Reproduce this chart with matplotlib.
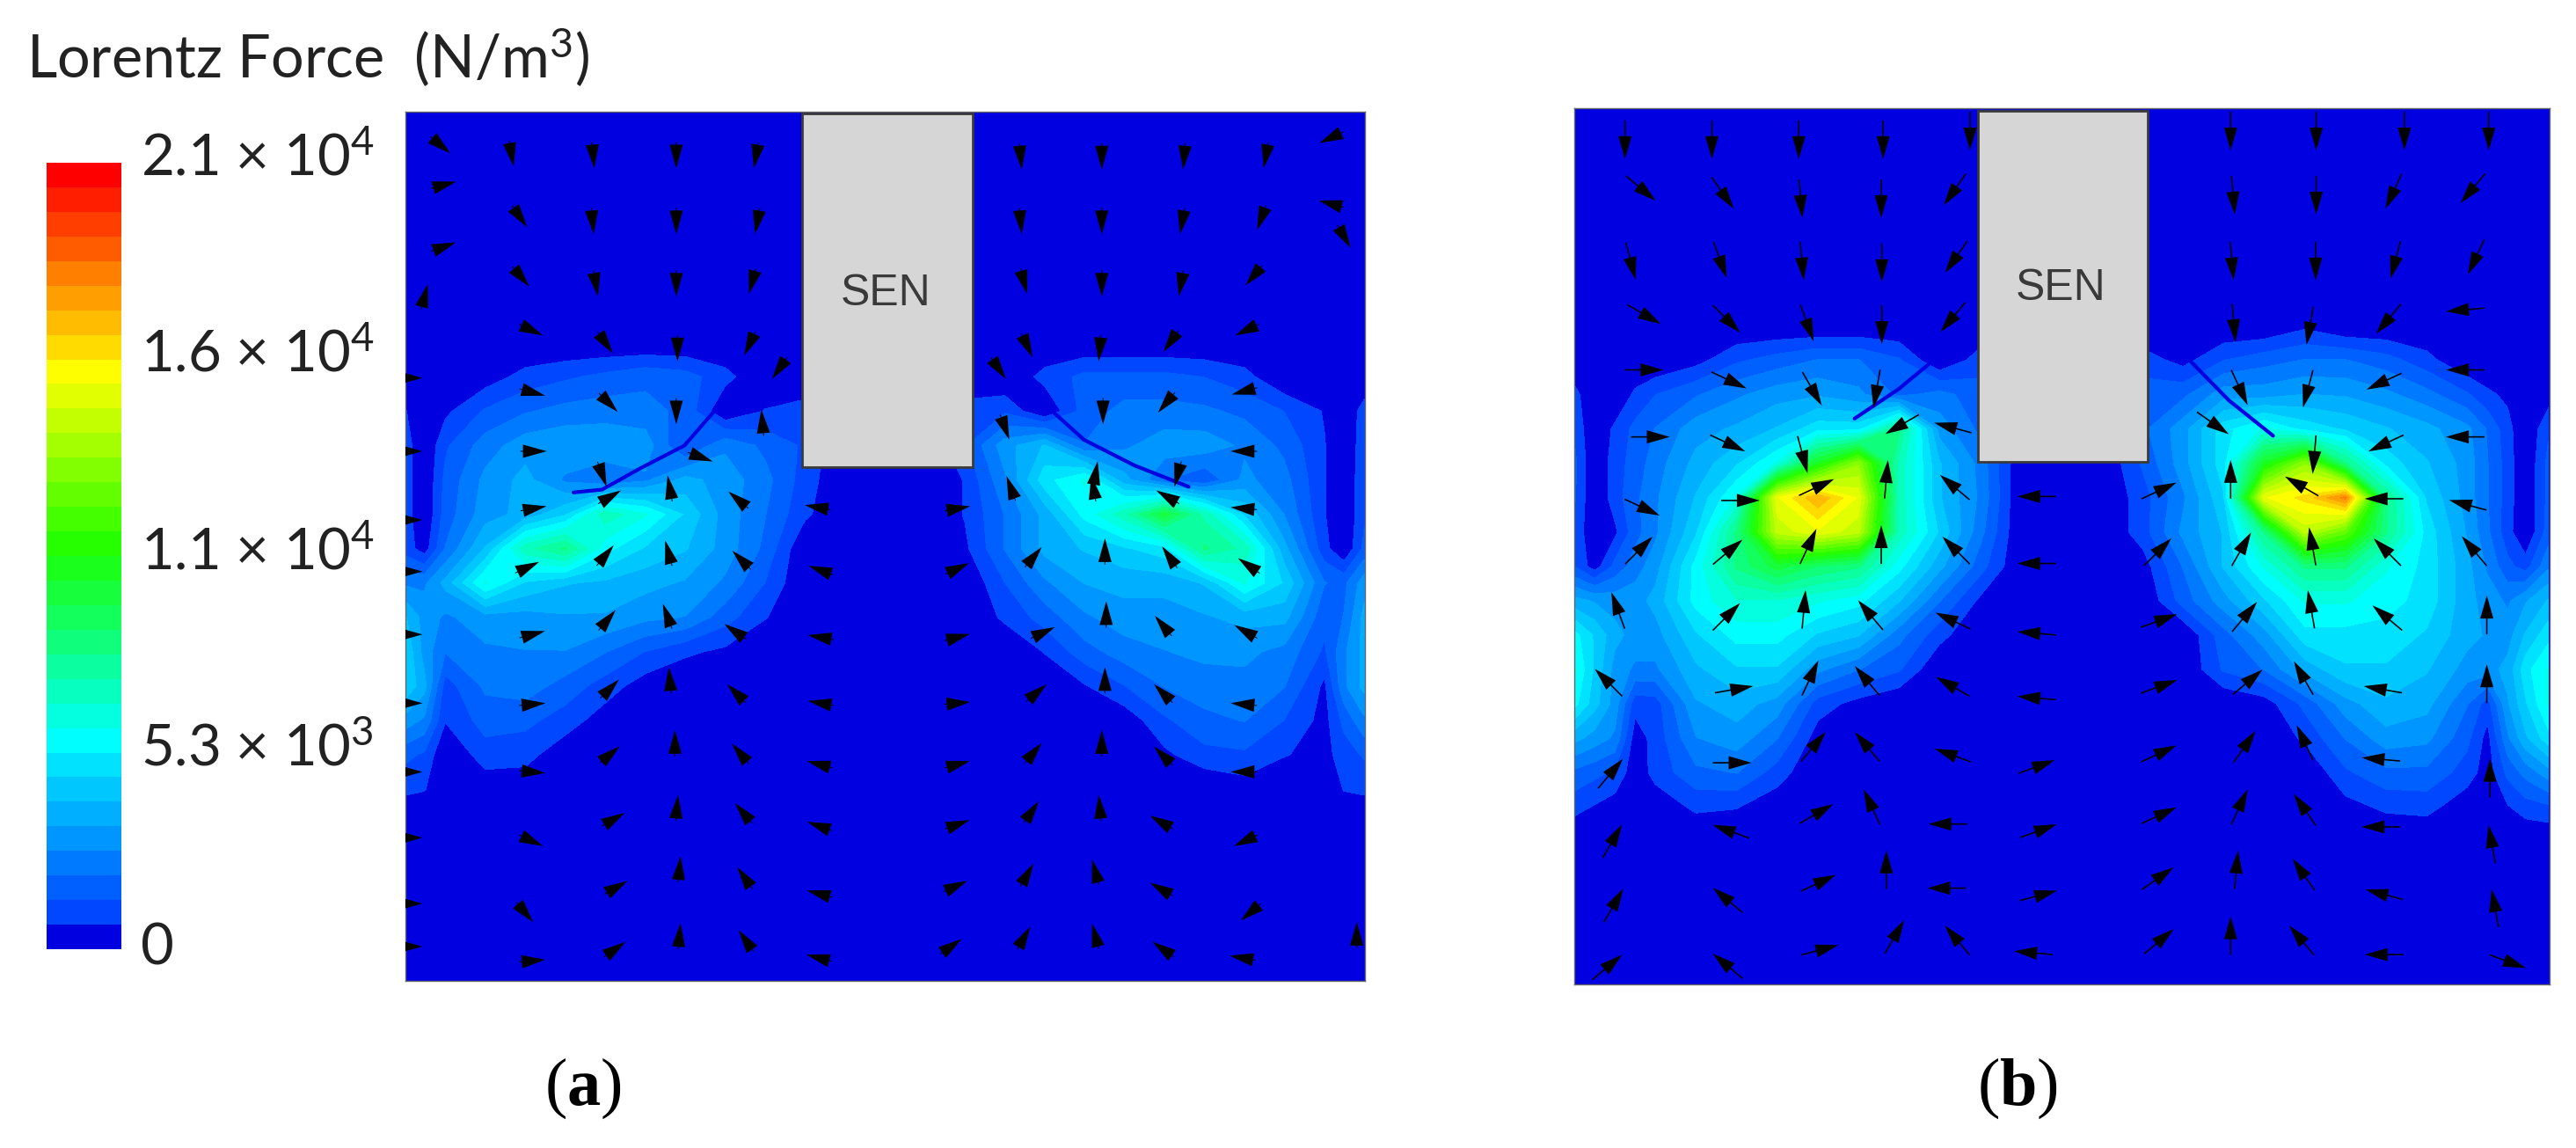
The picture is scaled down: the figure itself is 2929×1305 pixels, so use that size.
#!/usr/bin/env python3
"""Lorentz force maps around the SEN, two cases with a shared colour bar."""

import matplotlib
matplotlib.use('Agg')
import matplotlib.pyplot as plt
from matplotlib.cm import ScalarMappable
from matplotlib.colors import BoundaryNorm, LinearSegmentedColormap, ListedColormap
from matplotlib.patches import Rectangle
import numpy as np

# force magnitude in kN/m3 on a coarse grid
field_a_x = [30, 60, 93, 156, 219, 282, 345, 408, 471, 534, 597, 660, 723, 786, 849, 912,
             975, 1038, 1101, 1164, 1227, 1290, 1353, 1416, 1479, 1510, 1542]
field_a_y = [430, 490, 550, 610, 670, 730, 790, 850, 910, 970, 1030, 1090, 1150, 1210, 1270]
field_a = [
    [0, 0, 0, 0, 0, 0, 0, 0, 0, 0, 0, 0, 0, 0, 0, 0, 0, 0, 0, 0, 0, 0, 0, 0, 0, 0, 0],
    [0, 0, 0, 0.3, 0.9, 1.2, 1.5, 1.8, 1.6, 0.9, 0, 0, 0, 0, 0, 0, 0, 0.9, 1.5, 1.5, 1.5, 1.3, 0.9, 0, 0, 0, 0],
    [0.7, 0, 0.5, 1.4, 1.9, 2.2, 2.3, 2.2, 1.8, 0, 0.7, 1.0, 0, 0, 0, 1.0, 1.2, 0, 1.6, 2.2, 2.2, 2.1, 1.8, 1.3, 0.6, 0, 1.0],
    [1.0, 0, 1.2, 2.3, 3.0, 3.2, 3.2, 3.0, 1.2, 2.5, 1.8, 1.2, 0, 0, 0, 1.2, 3.0, 4.0, 2.0, 2.5, 3.0, 3.0, 2.5, 1.8, 0.7, 0, 1.1],
    [1.0, 0, 1.5, 2.8, 3.5, 2.5, 2.0, 2.5, 3.5, 3.0, 2.2, 1.0, 0, 0, 0, 0.7, 2.5, 5.0, 6.0, 3.5, 2.0, 1.4, 2.8, 2.2, 0.7, 0, 1.2],
    [1.0, 0, 1.6, 3.0, 3.5, 4.5, 7.0, 6.0, 4.5, 3.0, 2.0, 0.8, 0, 0, 0, 0.7, 2.0, 3.5, 5.5, 7.0, 9.5, 7.0, 4.5, 2.6, 0.7, 0, 1.2],
    [1.0, 0.3, 2.0, 4.0, 7.0, 8.0, 5.5, 4.5, 4.0, 3.0, 1.8, 0, 0, 0, 0, 0.5, 2.0, 3.5, 4.0, 4.5, 5.0, 8.0, 7.0, 3.5, 0.9, 0, 1.5],
    [2.5, 2.5, 3.5, 6.0, 4.5, 4.0, 3.8, 3.5, 3.2, 2.5, 1.3, 0, 0, 0, 0, 0, 1.3, 2.5, 3.3, 3.5, 3.5, 4.0, 6.0, 4.5, 2.0, 1.8, 3.0],
    [4.0, 3.0, 2.5, 3.0, 3.0, 3.2, 3.2, 2.8, 2.6, 1.6, 0.7, 0, 0, 0, 0, 0, 0.8, 1.6, 2.5, 3.0, 3.0, 3.2, 3.5, 3.5, 1.5, 2.0, 3.5],
    [4.5, 3.0, 2.0, 2.5, 2.6, 2.6, 2.0, 1.3, 0.8, 0.5, 0, 0, 0, 0, 0, 0, 0, 0.7, 1.7, 2.3, 2.6, 2.8, 2.8, 2.4, 1.2, 2.5, 3.5],
    [4.5, 3.5, 1.0, 2.1, 2.3, 1.7, 1.0, 0.3, 0, 0, 0, 0, 0, 0, 0, 0, 0, 0, 0.6, 1.3, 2.0, 2.3, 2.4, 2.0, 0.5, 2.5, 3.5],
    [3.0, 2.5, 0.7, 1.6, 1.5, 1.0, 0.3, 0, 0, 0, 0, 0, 0, 0, 0, 0, 0, 0, 0, 0.2, 1.2, 1.8, 2.0, 1.3, 0.4, 1.5, 2.5],
    [1.5, 1.2, 0, 1.0, 0.9, 0.2, 0, 0, 0, 0, 0, 0, 0, 0, 0, 0, 0, 0, 0, 0, 0.5, 1.1, 1.2, 0.7, 0.4, 1.0, 1.4],
    [0.8, 0.7, 0, 0.2, 0.2, 0, 0, 0, 0, 0, 0, 0, 0, 0, 0, 0, 0, 0, 0, 0, 0, 0, 0.3, 0, 0, 0.7, 0.8],
    [0, 0, 0, 0, 0, 0, 0, 0, 0, 0, 0, 0, 0, 0, 0, 0, 0, 0, 0, 0, 0, 0, 0, 0, 0, 0, 0],
]
# thin low-force slits across the lobes
slits_a_x = [[560, 470, 400, 340, 295], [1030, 1100, 1180, 1265]]
slits_a_y = [[495, 610, 650, 687, 692], [530, 600, 645, 682]]

field_b_x = [28, 60, 92, 124, 156, 220, 284, 348, 412, 476, 540, 604, 668, 732, 796, 860, 924,
             988, 1052, 1116, 1180, 1244, 1308, 1372, 1436, 1468, 1500, 1528, 1564]
field_b_y = [400, 460, 520, 580, 640, 700, 760, 820, 880, 940, 1000, 1060, 1120, 1180, 1240, 1300]
field_b = [
    [0, 0, 0, 0, 0, 0, 0, 0, 0, 0, 0, 0, 0, 0, 0, 0, 0, 0, 0, 0, 0.5, 0, 0, 0, 0, 0, 0, 0, 0],
    [0, 0, 0, 0, 0, 0.4, 1.2, 1.6, 2.0, 2.0, 1.4, 0, 1.0, 0, 0, 0, 1.0, 0.4, 1.3, 1.7, 2.0, 2.0, 1.6, 0.9, 0, 0, 0, 0, 0],
    [0.9, 0, 0, 0.8, 1.3, 1.9, 2.5, 3.0, 3.2, 2.8, 1.8, 2.2, 1.6, 0, 0, 0, 1.6, 1.8, 3.0, 3.0, 3.3, 3.2, 2.8, 2.2, 1.4, 0.8, 0.5, 0, 0.3],
    [1.2, 0, 0.8, 1.5, 2.0, 3.0, 3.4, 4.0, 5.0, 5.0, 8.0, 3.0, 1.8, 0, 0, 0, 1.8, 3.0, 5.0, 6.0, 5.0, 4.5, 4.0, 3.5, 2.8, 1.9, 0.9, 0, 1.2],
    [1.5, 0, 1.0, 1.6, 2.3, 3.5, 4.5, 6.0, 10.0, 13.0, 7.0, 4.0, 2.4, 0, 0, 0, 1.4, 3.0, 5.0, 10.0, 13.0, 8.0, 5.0, 4.0, 3.0, 2.0, 1.0, 0, 1.5],
    [1.4, 0, 1.0, 1.8, 2.5, 4.0, 6.0, 15.0, 17.0, 15.0, 7.0, 4.0, 2.5, 0, 0, 0, 1.0, 2.5, 4.5, 15.0, 16.0, 18.0, 8.0, 4.5, 3.0, 2.0, 1.0, 0, 1.5],
    [1.2, 0, 0.5, 1.7, 2.5, 4.5, 8.0, 14.0, 15.0, 14.0, 7.0, 4.5, 2.2, 0, 0, 0, 1.0, 2.8, 4.0, 8.0, 14.0, 12.0, 8.0, 5.0, 3.2, 2.1, 0.9, 0, 1.6],
    [1.3, 0.3, 1.5, 2.3, 3.0, 5.5, 8.0, 9.5, 8.5, 8.0, 5.5, 3.5, 1.6, 0, 0, 0, 0.3, 2.0, 4.0, 6.0, 8.0, 8.0, 6.0, 5.0, 3.5, 2.5, 1.5, 1.0, 2.5],
    [3.5, 3.2, 3.0, 3.0, 3.5, 5.5, 6.5, 6.5, 6.0, 5.5, 4.0, 2.0, 0.5, 0, 0, 0, 0, 1.6, 3.0, 4.5, 6.0, 6.0, 5.5, 5.0, 3.5, 3.0, 2.5, 3.2, 4.0],
    [5.5, 4.5, 3.5, 3.0, 3.0, 4.5, 5.5, 5.5, 4.5, 4.0, 2.2, 0.9, 0, 0, 0, 0, 0, 0, 1.7, 3.0, 5.0, 5.0, 5.0, 4.5, 3.5, 3.2, 3.0, 4.0, 5.0],
    [6.0, 4.5, 3.0, 2.5, 2.5, 3.8, 4.5, 4.5, 2.8, 2.0, 1.4, 0, 0, 0, 0, 0, 0, 0, 1.4, 2.0, 3.5, 4.5, 4.5, 4.0, 3.0, 3.0, 3.5, 5.0, 6.0],
    [5.5, 4.2, 3.0, 0.9, 1.0, 3.2, 3.6, 3.0, 1.0, 0.4, 0, 0, 0, 0, 0, 0, 0, 0, 0, 0.3, 1.5, 3.0, 3.8, 3.5, 2.0, 1.0, 3.2, 4.5, 6.0],
    [3.5, 3.0, 2.5, 0.3, 0.9, 2.6, 3.0, 2.0, 0.3, 0, 0, 0, 0, 0, 0, 0, 0, 0, 0, 0, 0.8, 2.0, 3.0, 2.8, 1.5, 0.4, 2.5, 3.8, 5.0],
    [1.8, 1.5, 1.2, 0.2, 0.9, 1.8, 2.0, 1.0, 0, 0, 0, 0, 0, 0, 0, 0, 0, 0, 0, 0, 0, 1.2, 1.8, 1.8, 1.0, 0.3, 1.5, 2.2, 3.0],
    [0.9, 0.6, 0.3, 0, 0.2, 0.8, 0.7, 0.2, 0, 0, 0, 0, 0, 0, 0, 0, 0, 0, 0, 0, 0, 0.4, 0.8, 0.9, 0.2, 0.2, 0.6, 1.0, 1.2],
    [0, 0, 0, 0, 0, 0, 0, 0, 0, 0, 0, 0, 0, 0, 0, 0, 0, 0, 0, 0, 0, 0, 0, 0, 0, 0, 0, 0, 0],
]
slits_b_x = [[600, 540, 470], [1000, 1060, 1130]]
slits_b_y = [[455, 510, 562], [462, 530, 592]]

# force arrows: position and direction (degrees, anticlockwise from +x)
arrows_a_x = [85, 197, 326, 457, 583, 1000, 1128, 1258, 1387, 1490,
              90, 210, 325, 457, 585, 1000, 1128, 1255, 1380, 1490, 1510,
              90, 212, 330, 457, 577, 1005, 1128, 1253, 1368, 60,
              228, 345, 459, 573, 1010, 1125, 1237, 1357,
              230, 350, 457, 620, 965, 1130, 1230, 1353, 593, 975,
              232, 340, 495, 1118, 1248, 1352,
              232, 352, 447, 555, 680, 900, 985, 1115, 1232, 1352,
              222, 345, 445, 560, 685, 900, 1020, 1133, 1235, 1360,
              230, 348, 443, 550, 685, 900, 1035, 1135, 1225, 1355,
              230, 352, 447, 552, 685, 900, 1025, 1133, 1225, 1352,
              230, 352, 455, 558, 683, 900, 1020, 1128, 1225, 1352,
              228, 358, 458, 563, 683, 900, 1017, 1125, 1222, 1355,
              218, 362, 462, 565, 683, 897, 1010, 1118, 1222, 1363,
              230, 360, 462, 567, 682, 890, 1005, 1118, 1225, 1350, 1530,
              36, 36, 36, 36, 36, 36, 36, 36, 36, 36]
arrows_a_y = [85, 100, 103, 103, 103, 105, 105, 105, 103, 72,
              155, 210, 218, 218, 218, 218, 218, 218, 212, 188, 245,
              263, 315, 327, 327, 323, 323, 327, 327, 313, 350,
              408, 430, 440, 432, 435, 440, 428, 408,
              517, 535, 550, 475, 475, 550, 535, 515, 570, 578,
              620, 660, 630, 660, 660, 620,
              720, 700, 685, 705, 718, 720, 685, 685, 700, 720,
              823, 802, 798, 810, 828, 825, 805, 795, 805, 820,
              940, 915, 908, 935, 945, 945, 937, 905, 925, 935,
              1062, 1035, 1020, 1043, 1060, 1060, 1042, 1020, 1043, 1062,
              1180, 1150, 1130, 1148, 1167, 1167, 1147, 1130, 1152, 1180,
              1300, 1263, 1243, 1252, 1275, 1272, 1250, 1243, 1268, 1300,
              1425, 1382, 1350, 1365, 1393, 1380, 1360, 1355, 1385, 1425,
              1510, 1490, 1467, 1475, 1505, 1485, 1470, 1467, 1490, 1505, 1465,
              492, 620, 740, 830, 940, 1060, 1180, 1295, 1410, 1485]
arrows_a_angle = [-40, -80, -85, -90, -100, -85, -90, -95, -100, 205,
                  15, -55, -85, -90, -100, -85, -90, -100, -110, 165, -60,
                  20, -50, -80, -90, -105, -75, -90, -100, -130, 75,
                  -25, -55, -90, -115, -65, -95, -125, -155,
                  -15, -45, -90, -125, -55, -90, -130, -165, 95, -70,
                  0, -70, -20, 80, -105, 180,
                  10, 30, 100, 140, 170, 10, 110, 100, 150, 175,
                  25, 50, 105, 135, 160, 25, 50, 90, 125, 145,
                  15, 50, 110, 145, 170, 15, 25, 90, 130, 150,
                  5, 45, 95, 135, 170, 5, 40, 90, 135, 175,
                  -5, 40, 90, 130, 165, 15, 50, 90, 135, 180,
                  -25, 30, 85, 130, 160, 20, 55, 95, 150, 205,
                  -50, 30, 85, 125, 165, 25, 60, 105, 150, 220,
                  5, 35, 85, 125, 165, 35, 60, 105, 145, 170, 90,
                  0, 0, 0, 0, 0, 0, 0, 0, 0, 0]

arrows_b_x = [108, 245, 382, 515, 652, 1063, 1198, 1337, 1470,
              133, 262, 385, 512, 628, 1067, 1198, 1320, 1445,
              117, 258, 387, 513, 630, 1065, 1197, 1323, 1450,
              138, 268, 395, 513, 625, 1068, 1188, 1312, 1433,
              138, 272, 403, 505, 1077, 1185, 1305, 1433,
              148, 270, 388, 545, 625, 1035, 1195, 1308, 1433,
              135, 290, 410, 520, 628, 757, 950, 1063, 1175, 1305, 1437,
              130, 270, 397, 512, 630, 757, 948, 1080, 1192, 1310, 1447,
              97, 268, 390, 495, 625, 757, 950, 1085, 1190, 1310, 1467,
              82, 280, 400, 490, 625, 757, 950, 1090, 1178, 1303, 1467,
              85, 277, 405, 490, 625, 757, 950, 1085, 1180, 1300, 1472,
              88, 275, 410, 497, 617, 760, 950, 1077, 1180, 1300, 1475,
              90, 270, 413, 520, 615, 760, 948, 1072, 1178, 1305, 1480,
              80, 270, 415, 533, 632, 752, 950, 1063, 1175, 1305, 1500]
arrows_b_y = [75, 75, 75, 75, 60, 60, 60, 60, 60,
              160, 168, 178, 178, 162, 172, 172, 165, 160,
              287, 285, 287, 290, 280, 287, 287, 285, 280,
              380, 388, 395, 398, 385, 395, 400, 388, 372,
              477, 495, 510, 510, 508, 510, 497, 477,
              594, 605, 625, 572, 578, 570, 625, 605, 594,
              717, 705, 682, 668, 682, 698, 688, 668, 680, 702, 713,
              792, 795, 785, 782, 792, 815, 795, 790, 785, 795, 793,
              897, 908, 895, 905, 915, 937, 915, 908, 895, 910, 905,
              1023, 1035, 1015, 1020, 1030, 1050, 1030, 1022, 1015, 1035, 1025,
              1182, 1163, 1135, 1135, 1150, 1170, 1147, 1135, 1128, 1157, 1190,
              1300, 1283, 1252, 1240, 1270, 1282, 1255, 1240, 1245, 1275, 1305,
              1412, 1403, 1373, 1350, 1382, 1395, 1365, 1350, 1358, 1393, 1417,
              1520, 1518, 1490, 1467, 1473, 1495, 1475, 1465, 1473, 1498, 1510]
arrows_b_angle = [-90, -90, -90, -90, -90, -90, -90, -90, -90,
                  -40, -55, -85, -90, -125, -85, -90, -115, -130,
                  -75, -70, -85, -90, -125, -85, -90, -105, -115,
                  -30, -45, -70, -90, -130, -85, -100, -130, -175,
                  0, -25, -60, -100, -65, -105, -155, 180,
                  0, -25, -75, -150, 165, -35, -95, -155, 180,
                  -25, 0, 25, 85, 140, 180, 25, 90, 150, 180, 165,
                  45, 40, 65, 90, 135, 180, 45, 60, 100, 135, 130,
                  110, 45, 85, 130, 155, 175, 20, 50, 100, 140, 90,
                  135, 10, 65, 130, 150, 175, 20, 40, 120, 170, 90,
                  50, 0, 50, 130, 160, 20, 25, 55, 115, 175, 90,
                  60, 160, 30, 115, 180, 20, 25, 65, 125, 180, 100,
                  60, 140, 25, 90, 180, 15, 35, 85, 125, 165, 100,
                  40, 140, 15, 60, 130, 175, 40, 90, 130, 180, -20]

# colour bar: value levels and the labelled ticks
level_count = 32
level_max = 21
bar_labels = ['2.1 × 10$^{4}$', '1.6 × 10$^{4}$', '1.1 × 10$^{4}$', '5.3 × 10$^{3}$', '0']
bar_label_y = [180, 403, 628, 851, 1078]

W, H = 2929, 1305
plt.rcParams['font.family'] = ['Lato', 'DejaVu Sans']
plt.rcParams['mathtext.fontset'] = 'custom'
plt.rcParams['mathtext.rm'] = 'Liberation Serif'
plt.rcParams['mathtext.bf'] = 'Liberation Serif:bold'
plt.rcParams['mathtext.default'] = 'regular'


def px_axes(fig, x0, y0, x1, y1):
    return fig.add_axes([x0 / W, 1 - y1 / H, (x1 - x0) / W, (y1 - y0) / H])


def draw_panel(ax, fx, fy, field, slits_x, slits_y, ax_x, ax_y, ay_angle, xlim, ylim, sen, sen_text,
               arrow_len, shaft, head_w, head_l):
    ax.set_facecolor(band_colors[0])
    ax.contourf(fx, fy, np.array(field), levels=levels, cmap=cmap, norm=norm, antialiased=False)
    for sx, sy in zip(slits_x, slits_y):
        ax.plot(sx, sy, color=band_colors[0], linewidth=3, solid_capstyle='round', zorder=2)
    rad = np.radians(ay_angle)
    ax.quiver(ax_x, ax_y, np.cos(rad), np.sin(rad), angles='uv', units='dots', width=shaft,
              scale_units='dots', scale=1 / arrow_len, pivot='mid', color='black',
              headwidth=head_w / shaft, headlength=head_l / shaft, headaxislength=head_l / shaft, zorder=3)
    x0, y0, x1, y1 = sen
    ax.add_patch(Rectangle((x0, y0), x1 - x0, y1 - y0, facecolor='#d6d6d6',
                           edgecolor='#3a3a3a', linewidth=2, zorder=4))
    ax.text(sen_text[0], sen_text[1], 'SEN', family='Liberation Sans', fontsize=36, color='#3a3a3a',
            ha='center', va='center', zorder=5)
    ax.set_xlim(*xlim)
    ax.set_ylim(*ylim)
    ax.set_xticks([])
    ax.set_yticks([])
    for s in ax.spines.values():
        s.set_color('#666666')
        s.set_linewidth(1)


t = [0, 0.03, 0.26, 0.51, 0.74, 1]
rgb = [(0, 0, 225), (0, 70, 255), (0, 255, 255), (30, 255, 0), (255, 255, 0), (255, 0, 0)]
base = LinearSegmentedColormap.from_list('force', [(p, tuple(c / 255 for c in v)) for p, v in zip(t, rgb)])
band_colors = [base(i / (level_count - 1)) for i in range(level_count)]
cmap = ListedColormap(band_colors)
levels = np.linspace(0, level_max, level_count + 1)
norm = BoundaryNorm(levels, level_count)

fig = plt.figure(figsize=(W / 100, H / 100), dpi=100)

ax_a = px_axes(fig, 461, 127, 1552, 1115)
draw_panel(ax_a, field_a_x, field_a_y, field_a, slits_a_x, slits_a_y,
           arrows_a_x, arrows_a_y, arrows_a_angle,
           (30, 1543), (1545, 27), (655, 30, 925, 648), (788, 345), 30, 1.0, 15, 27)
ax_b = px_axes(fig, 1790, 123, 2899, 1119)
draw_panel(ax_b, field_b_x, field_b_y, field_b, slits_b_x, slits_b_y,
           arrows_b_x, arrows_b_y, arrows_b_angle,
           (28, 1566), (1550, 20), (665, 25, 932, 637), (795, 335), 44, 1.6, 15, 26)

cax = px_axes(fig, 53, 185, 138, 1079)
bar = fig.colorbar(ScalarMappable(norm=norm, cmap=cmap), cax=cax, ticks=[])
bar.outline.set_visible(False)
bar.ax.minorticks_off()

fig.text(30 / W, 1 - 65 / H, 'Lorentz Force  (N/m$^{3}$)', fontsize=48, color='#222222', va='center', ha='left')
for label, y in zip(bar_labels, bar_label_y):
    fig.text(160 / W, 1 - y / H, label, fontsize=47, color='#222222', va='center', ha='left')

for name, x in zip(['a', 'b'], [663, 2294]):
    fig.text(x / W, 1 - 1237 / H, '($\\mathbf{%s}$)' % name, family='Liberation Serif',
             fontsize=55, color='black', va='center', ha='center')

fig.savefig('out.png', dpi=100)
